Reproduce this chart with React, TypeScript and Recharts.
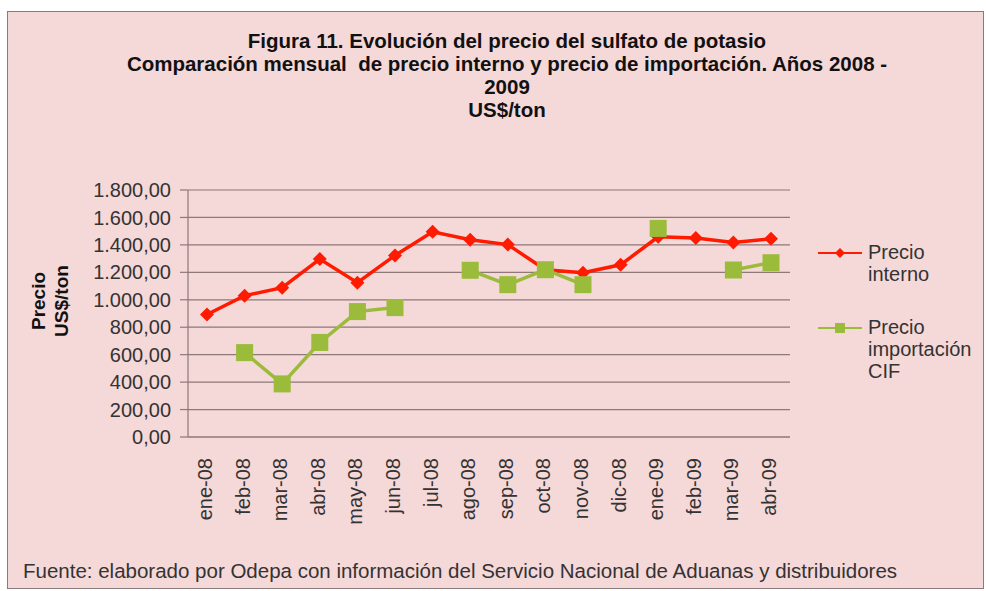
import { CartesianGrid, Line, LineChart, XAxis, YAxis } from "recharts";

const months = [
  "ene-08", "feb-08", "mar-08", "abr-08", "may-08", "jun-08", "jul-08", "ago-08",
  "sep-08", "oct-08", "nov-08", "dic-08", "ene-09", "feb-09", "mar-09", "abr-09",
];
const precioInterno = [893, 1030, 1088, 1297, 1125, 1323, 1495, 1437, 1402, 1219, 1197, 1255, 1459, 1451, 1417, 1444];
const precioImportacion = [null, 615, 387, 689, 914, 943, null, 1215, 1110, 1219, 1110, null, 1520, null, 1217, 1270];
const yTicks = [0, 200, 400, 600, 800, 1000, 1200, 1400, 1600, 1800];

const data = months.map((m, i) => ({
  mes: m,
  interno: precioInterno[i],
  importacion: precioImportacion[i],
}));

const FONT = '"Liberation Sans", Arial, sans-serif';
const RED = "#ff1a00";
const GREEN = "#9bbb3b";
const GRID = "#8e7878";

function fmt(v: number) {
  const [ent, dec] = v.toFixed(2).split(".");
  return ent.replace(/\B(?=(\d{3})+(?!\d))/g, ".") + "," + dec;
}

function MonthTick({ x, payload }: any) {
  return (
    <text
      transform={`translate(${x - 2},458) rotate(-90)`}
      textAnchor="end"
      dominantBaseline="central"
      fontFamily={FONT}
      fontSize={20}
      fill="#333"
    >
      {payload.value}
    </text>
  );
}

function Diamond({ cx, cy, index }: any) {
  if (cx == null || cy == null) return <g key={`d${index}`} />;
  const r = 7;
  return (
    <polygon
      key={`d${index}`}
      points={`${cx},${cy - r} ${cx + r},${cy} ${cx},${cy + r} ${cx - r},${cy}`}
      fill={RED}
    />
  );
}

function Square({ cx, cy, index }: any) {
  if (cx == null || cy == null) return <g key={`s${index}`} />;
  const h = 8.5;
  return <rect key={`s${index}`} x={cx - h} y={cy - h} width={h * 2} height={h * 2} fill={GREEN} />;
}

export default function App() {
  return (
    <div style={{ position: "absolute", left: 0, top: 0, width: 986, height: 591, background: "#fff", fontFamily: FONT }}>
      <div
        style={{
          position: "absolute",
          left: 7,
          top: 11,
          width: 975,
          height: 576,
          background: "#f5d8d8",
          border: "1px solid #8c7a7a",
        }}
      />
      <div
        style={{
          position: "absolute",
          left: 107,
          top: 29,
          width: 800,
          textAlign: "center",
          fontWeight: "bold",
          fontSize: 20.5,
          lineHeight: "23px",
          color: "#111",
        }}
      >
        <div>Figura 11. Evolución del precio del sulfato de potasio</div>
        <div style={{ whiteSpace: "nowrap" }}>Comparación mensual&nbsp; de precio interno y precio de importación. Años 2008 -</div>
        <div>2009</div>
        <div>US$/ton</div>
      </div>

      <div
        style={{
          position: "absolute",
          left: 50 - 60,
          top: 301 - 23,
          width: 120,
          textAlign: "center",
          transform: "rotate(-90deg)",
          fontWeight: "bold",
          fontSize: 19,
          lineHeight: "23px",
          color: "#111",
        }}
      >
        <div>Precio</div>
        <div>US$/ton</div>
      </div>

      <div style={{ position: "absolute", left: 0, top: 0 }}>
        <LineChart width={986} height={591} data={data} margin={{ top: 190, right: 196, bottom: 54, left: 0 }}>
          <CartesianGrid vertical={false} stroke={GRID} strokeWidth={1.2} />
          <XAxis
            dataKey="mes"
            height={100}
            padding={{ left: 19, right: 19 }}
            tickLine={false}
            axisLine={{ stroke: GRID, strokeWidth: 1.2 }}
            interval={0}
            tick={<MonthTick />}
          />
          <YAxis
            width={188}
            domain={[0, 1800]}
            ticks={yTicks}
            interval={0}
            tickFormatter={fmt}
            tickSize={8}
            tickMargin={9}
            tickLine={{ stroke: GRID, strokeWidth: 1.2 }}
            axisLine={{ stroke: GRID, strokeWidth: 1.2 }}
            tick={{ fill: "#333", fontSize: 20, fontFamily: FONT }}
          />
          <Line
            dataKey="interno"
            stroke={RED}
            strokeWidth={3.5}
            dot={<Diamond />}
            isAnimationActive={false}
          />
          <Line
            dataKey="importacion"
            stroke={GREEN}
            strokeWidth={3.5}
            dot={<Square />}
            connectNulls={false}
            isAnimationActive={false}
          />
        </LineChart>
      </div>

      <svg style={{ position: "absolute", left: 810, top: 240 }} width={60} height={100}>
        <line x1={8} y1={13} x2={52} y2={13} stroke={RED} strokeWidth={2} />
        <polygon points="30,8 35,13 30,18 25,13" fill={RED} />
        <line x1={8} y1={88} x2={52} y2={88} stroke={GREEN} strokeWidth={2} />
        <rect x={25} y={83} width={10} height={10} fill={GREEN} />
      </svg>
      <div style={{ position: "absolute", left: 868, top: 241, fontSize: 20, lineHeight: "22px", color: "#333" }}>
        <div>Precio</div>
        <div>interno</div>
      </div>
      <div style={{ position: "absolute", left: 868, top: 316, fontSize: 20, lineHeight: "22px", color: "#333" }}>
        <div>Precio</div>
        <div>importación</div>
        <div>CIF</div>
      </div>

      <div style={{ position: "absolute", left: 23, top: 559, fontSize: 20.5, color: "#333", whiteSpace: "nowrap" }}>
        Fuente: elaborado por Odepa con información del Servicio Nacional de Aduanas y distribuidores
      </div>
    </div>
  );
}
